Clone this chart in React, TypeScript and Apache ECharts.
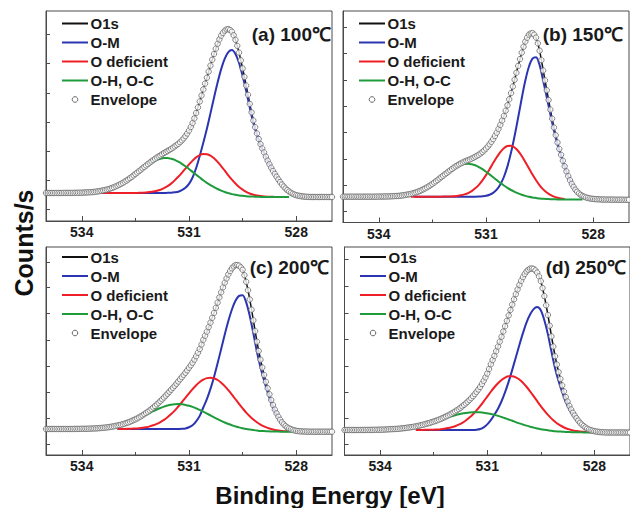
import React, { useEffect, useRef } from "react";
import * as echarts from "echarts";

// ---------------- data ----------------
// Intensities are in arbitrary counts units (no y labels in the original).
const ENV_START = 535.0; // eV of first envelope / O1s sample
const ENV_STEP = 0.05; // eV between envelope samples
const FIT_STEP = 0.1; // eV between fitted-component samples

const X_MAJOR = [534, 531, 528];
const X_MINOR = [532.5, 529.5];
const SERIES_NAMES = ["O1s", "O-M", "O deficient", "O-H, O-C", "Envelope"];
const PANEL_TITLES = ["(a) 100℃", "(b) 150℃", "(c) 200℃", "(d) 250℃"];
const Y_MAX = [210, 211.5, 208, 208];
const Y_TICKS = [
  [12, 41, 70, 99, 128, 158, 187],
  [11, 37, 63.5, 90, 116, 142.5, 169, 195],
  [11, 37, 63, 89, 115, 142, 168, 193],
  [11, 37, 63, 89, 115.5, 142, 169, 195.5],
];

// ---- (a) 100 C ----
const ENV_A = [
  28, 28, 28, 28, 28, 28, 28, 28, 28, 28,
  28.1, 28.1, 28.1, 28.1, 28.1, 28.1, 28.1, 28.2, 28.2, 28.3,
  28.3, 28.4, 28.5, 28.6, 28.7, 28.8, 28.9, 29.1, 29.4, 29.6,
  29.9, 30.2, 30.6, 31.0, 31.4, 31.9, 32.5, 33.1, 33.8, 34.6,
  35.4, 36.3, 37.2, 38.2, 39.3, 40.4, 41.6, 42.9, 44.2, 45.6,
  47.0, 48.4, 49.8, 51.2, 52.7, 54.1, 55.5, 56.9, 58.3, 59.6,
  60.9, 62.2, 63.4, 64.5, 65.6, 66.8, 68.0, 69.0, 70.0, 71.0,
  72.1, 73.3, 74.6, 75.9, 77.2, 78.8, 80.6, 82.6, 84.9, 87.5,
  90.5, 94.0, 98.0, 102.6, 108.0, 113.6, 119.5, 125.5, 131.6, 137.4,
  143.3, 149.4, 155.4, 161.3, 167.0, 172.3, 177.2, 181.6, 185.4, 188.2,
  190.4, 191.6, 191.9, 191.0, 189.3, 185.7, 181.1, 175.2, 168.4, 160.7,
  152.6, 144.1, 135.4, 126.2, 117.1, 108.6, 100.5, 93.8, 87.6, 82.0,
  76.9, 72.5, 68.5, 64.3, 60.3, 56.7, 53.2, 50.1, 47.1, 44.2,
  41.5, 38.9, 36.5, 34.4, 32.5, 30.9, 29.5, 28.3, 27.2, 26.4,
  25.8, 25.4, 25.0, 24.7, 24.5, 24.3, 24.2, 24.1, 24.0, 24.0,
  24, 24, 24, 24, 24, 24, 24, 24, 24, 24,
  24,
];
const OM_A_START = 533.0;
const OM_A = [
  28, 28, 28, 28, 28, 28, 28, 28, 28, 28, 28, 28, 28,
  28, 28.2, 28.3, 28.7, 29.3, 30.8, 33.2, 37.1, 43.5, 53,
  65, 78.2, 92.2, 107.6, 123.4, 138.5, 151.9, 162.3, 168.9, 171,
  167, 158, 145, 130, 113.5, 98, 86.1, 76, 68, 60,
  53, 47, 41.5, 36.5, 32.5, 29.5, 27.2, 25.8,
];
const OD_A_START = 533.5;
const OD_A = [
  28, 28, 28, 28, 28, 28, 28, 28, 28, 28, 28,
  28.2, 28.3, 28.5, 28.9, 29.4, 30.2, 31.3, 32.9, 34.9, 37.4,
  40.6, 44.2, 48.2, 52.4, 56.6, 60.4, 63.6, 65.9, 66.9, 66.7,
  65.3, 62.7, 59.1, 54.9, 50.3, 45.7, 41.4, 37.5, 34.1, 31.4,
  29.2, 27.5, 26.4, 25.5, 24.9, 24.5, 24.3, 24.2, 24.1, 24, 24, 24,
];
const OH_A_START = 533.5;
const OH_A = [
  29.9, 30.6, 31.4, 32.5, 33.8, 35.4, 37.2, 39.3, 41.6, 44.2,
  46.9, 49.6, 52.4, 55, 57.4, 59.5, 61.2, 62.3, 62.9, 62.9,
  62.2, 61.1, 59.3, 57.2, 54.7, 52, 49.1, 46.3, 43.5, 40.7,
  38.2, 35.9, 33.9, 32, 30.4, 29, 27.9, 26.9, 26.2, 25.5,
  25.2, 24.8, 24.5, 24.4, 24.2, 24.1, 24, 24, 24, 24, 24, 24, 24, 24,
];

// ---- (b) 150 C ----
const ENV_B = [
  25.8, 25.8, 25.8, 25.8, 25.8, 25.8, 25.8, 25.8, 25.8, 25.8,
  25.8, 25.8, 25.8, 25.8, 25.8, 25.8, 25.8, 25.8, 25.8, 25.9,
  25.9, 25.9, 25.9, 26.0, 26.0, 26.1, 26.1, 26.2, 26.3, 26.4,
  26.5, 26.6, 26.8, 27.0, 27.3, 27.6, 27.9, 28.2, 28.6, 29.1,
  29.6, 30.2, 30.9, 31.6, 32.4, 33.3, 34.2, 35.2, 36.3, 37.4,
  38.6, 39.9, 41.2, 42.6, 44.0, 45.4, 46.8, 48.2, 49.5, 50.9,
  52.2, 53.6, 54.9, 56.1, 57.2, 58.2, 59.2, 60.1, 60.9, 61.7,
  62.4, 63.1, 63.9, 64.8, 65.8, 66.8, 67.8, 69.1, 70.5, 72.1,
  73.9, 75.9, 78.2, 80.7, 83.4, 86.5, 89.8, 93.6, 97.6, 102.0,
  106.6, 111.8, 117.2, 123.2, 129.4, 136.0, 142.8, 149.7, 156.6, 163.4,
  169.9, 175.8, 180.9, 184.8, 187.9, 189.0, 189.4, 187.8, 184.9, 179.2,
  171.8, 162.4, 152.0, 142.2, 132.3, 122.5, 112.9, 103.8, 95.0, 87.3,
  80.0, 73.6, 67.7, 61.8, 56.2, 51.1, 46.4, 42.3, 38.6, 35.6,
  32.8, 30.8, 29.0, 27.6, 26.5, 25.7, 25.0, 24.5, 24.1, 23.8,
  23.6, 23.4, 23.3, 23.2, 23.1, 23.0, 23.0, 22.9, 22.9, 22.9,
  22.9, 22.9, 22.8, 22.8, 22.8, 22.8, 22.8, 22.7, 22.7, 22.7,
  22.7,
];
const OM_B_START = 533.0;
const OM_B = [
  25.8, 25.8, 25.8, 25.8, 25.8, 25.8, 25.8, 25.8, 25.8, 25.8, 25.8, 25.8, 25.8, 25.8, 25.8,
  25.7, 25.7,
  25.75, 25.9, 26.2, 26.7, 27.8, 29.6, 32.8, 38.0, 45.5, 56.1,
  69.9, 86.5, 105.0, 124.3, 142.0, 155.8, 163.9, 165.3, 157.4, 141.8,
  125.2, 108.2, 92.1, 78.3, 66.7, 55.6, 46.1, 38.4, 32.8, 29.0,
  26.5, 25.0, 24.1, 23.6,
];
const OD_B_START = 533.1;
const OD_B = [
  25.8, 25.8, 25.8, 25.8, 25.8, 25.8, 25.8, 25.8, 25.8,
  25.9, 26.0, 26.1, 26.3, 26.6, 27.2, 28.1, 29.4, 31.4, 34.2,
  37.7, 42.2, 47.4, 53.3, 59.4, 65.2, 70.4, 74.3, 76.5, 76.8,
  75.0, 71.5, 66.5, 60.5, 54.2, 47.9, 42.3, 37.2, 33.1, 30.0,
  27.7, 25.9, 24.8, 24.0, 23.6,
];
const OH_B_START = 533.5;
const OH_B = [
  26.5, 26.8, 27.3, 27.9, 28.6, 29.6, 30.9, 32.4, 34.2, 36.3,
  38.6, 41.2, 44.0, 46.8, 49.5, 52.1, 54.4, 56.4, 57.8, 58.6,
  58.7, 58.2, 57.2, 55.4, 53.3, 50.8, 48.1, 45.2, 42.4, 39.6,
  37.0, 34.6, 32.5, 30.7, 29.1, 27.7, 26.6, 25.7, 25.0, 24.5,
  24.0, 23.7, 23.5, 23.35, 23.2, 23.1, 23.0, 23, 23, 23,
  23, 23, 23,
];

// ---- (c) 200 C ----
const ENV_C = [
  26, 26, 26, 26, 26, 26, 26, 26, 26, 26,
  26, 26, 26, 26, 26, 26, 26.1, 26.1, 26.1, 26.1,
  26.2, 26.2, 26.2, 26.25, 26.3, 26.4, 26.5, 26.55, 26.6, 26.75,
  26.9, 27.05, 27.2, 27.4, 27.6, 27.85, 28.1, 28.4, 28.7, 29.1,
  29.5, 29.9, 30.3, 30.85, 31.4, 32.0, 32.6, 33.3, 34.1, 34.9,
  35.7, 36.6, 37.6, 38.6, 39.7, 40.9, 42.1, 43.3, 44.6, 46.0,
  47.5, 49.0, 50.6, 52.2, 53.9, 55.7, 57.5, 59.4, 61.3, 63.3,
  65.3, 67.2, 69.2, 71.3, 73.5, 75.7, 77.9, 80.1, 82.3, 84.7,
  87.2, 89.7, 92.3, 95.4, 98.8, 102.3, 106.0, 110.5, 115.2, 119.3,
  123.4, 127.9, 132.4, 137.2, 142.1, 147.2, 152.4, 157.6, 162.7, 167.6,
  172.3, 176.6, 180.6, 183.9, 186.7, 188.6, 189.9, 190.0, 189.4, 187.6,
  185.2, 179.8, 173.2, 164.8, 155.6, 145.3, 134.7, 123.9, 113.3, 104.0,
  95.3, 87.4, 80.1, 73.2, 66.7, 60.7, 55.0, 50.0, 45.4, 41.6,
  38.2, 35.2, 32.6, 30.6, 28.9, 27.6, 26.6, 25.8, 25.1, 24.6,
  24.2, 23.9, 23.7, 23.6, 23.5, 23.45, 23.4, 23.35, 23.3, 23.3,
  23.3, 23.3, 23.3, 23.3, 23.3, 23.3, 23.3, 23.3, 23.3, 23.3,
  23.3,
];
const OM_C_START = 533.0;
const OM_C = [
  26, 26, 26, 26, 26, 26, 26, 26, 26, 26, 26, 26, 26,
  26, 26, 26, 25.9, 25.9, 26.15, 26.6, 27.75, 29.7, 33.65,
  39.1, 47.5, 55.9, 66.1, 78.1, 91.7, 106.05, 120.5, 133.95, 145.5,
  154.25, 159.1, 159.85, 152.6, 139, 121.7, 103.3, 87.8, 74.45, 62.7,
  52.15, 43.4, 36.9, 31.8, 28.4, 26.2, 24.9, 24.1,
];
const OD_C_START = 533.0;
const OD_C = [
  26.05, 26.1, 26.1, 26.2, 26.35, 26.5, 26.8, 27.2, 27.8, 28.6,
  29.7, 31.1, 32.9, 35.1, 37.8, 40.95, 44.4, 48.5, 52.75, 57.2,
  61.65, 65.9, 69.75, 73, 75.4, 76.9, 77.3, 76.7, 75, 72.35,
  68.9, 64.85, 60.4, 55.75, 51.1, 46.65, 42.4, 38.8, 35.5, 32.7,
  30.4, 28.55, 27.1, 25.95, 25.1, 24.5, 24.1, 23.8, 23.65,
];
const OH_C_START = 533.5;
const OH_C = [
  26.9, 27.2, 27.6, 28.1, 28.7, 29.4, 30.2, 31.3, 32.4, 33.7,
  35.2, 36.8, 38.5, 40.3, 42.0, 43.8, 45.5, 47.0, 48.4, 49.5,
  50.25, 50.7, 50.9, 50.65, 50.1, 49.25, 48.1, 46.65, 45.1, 43.3,
  41.4, 39.6, 37.7, 35.9, 34.15, 32.5, 31.05, 29.8, 28.55, 27.6,
  26.75, 26.0, 25.4, 24.9, 24.5, 24.1, 23.95, 23.7, 23.55, 23.5,
  23.4, 23.35, 23.3, 23.3, 23.3,
];

// ---- (d) 250 C ----
const ENV_D = [
  25.0, 25.0, 25.0, 25.0, 25.0, 25.0, 25.0, 25.0, 25.0, 25.05,
  25.05, 25.05, 25.05, 25.1, 25.1, 25.1, 25.15, 25.2, 25.2, 25.25,
  25.3, 25.35, 25.4, 25.5, 25.6, 25.7, 25.8, 25.9, 26.0, 26.1,
  26.2, 26.4, 26.6, 26.8, 27.0, 27.25, 27.5, 27.75, 28.0, 28.3,
  28.6, 29.0, 29.4, 29.85, 30.3, 30.8, 31.3, 31.8, 32.3, 32.9,
  33.5, 34.1, 34.7, 35.45, 36.2, 37.0, 37.8, 38.65, 39.5, 40.45,
  41.4, 42.5, 43.6, 44.8, 46.0, 47.3, 48.7, 50.15, 51.65, 53.3,
  55.0, 56.8, 58.75, 60.9, 63.1, 65.5, 68.05, 71.0, 74.2, 77.7,
  81.5, 86.0, 90.75, 95.0, 99.15, 103.8, 108.45, 113.3, 118.25, 123.5,
  128.75, 134.2, 139.6, 145.0, 150.45, 155.7, 160.8, 165.6, 170.05, 174.2,
  177.9, 181.0, 183.55, 185.2, 186.3, 186.5, 186.1, 184.6, 182.4, 178.6,
  173.9, 166.9, 158.9, 149.7, 140.05, 129.3, 118.6, 108.5, 98.75, 90.5,
  82.9, 76.0, 69.6, 63.6, 58.0, 53.4, 49.1, 45.5, 42.2, 39.4,
  36.8, 34.4, 32.25, 30.5, 28.9, 27.6, 26.35, 25.5, 24.8, 24.3,
  23.8, 23.5, 23.2, 23.0, 22.8, 22.7, 22.6, 22.55, 22.5, 22.5,
  22.5, 22.5, 22.5, 22.5, 22.5, 22.5, 22.5, 22.5, 22.5, 22.5,
  22.5,
];
const OM_D_START = 533.0;
const OM_D = [
  25, 25, 25, 25, 25, 25, 25, 25, 25, 25, 25, 25, 25,
  25, 24.95, 24.9, 24.95, 25.2, 25.95, 27.7, 30.6, 34.8, 40.2,
  46.25, 53.75, 62.85, 73.4, 85.15, 97.6, 110.05, 121.9, 132.45, 140.5,
  145.9, 147.9, 144.8, 134.8, 120.65, 103.2, 86.85, 73.8, 62.8, 53.1,
  45.6, 39.8, 35.1, 31.1, 28.1, 25.9, 24.5, 23.6,
];
const OD_D_START = 533.0;
const OD_D = [
  25, 25, 25.1, 25.15, 25.2, 25.35, 25.5, 25.8, 26.3, 26.9,
  27.7, 28.8, 30.3, 32.2, 34.55, 37.4, 40.75, 44.7, 48.95, 53.6,
  58.4, 63.25, 67.75, 71.75, 75.05, 77.45, 78.7, 78.75, 77.7, 75.45,
  72.3, 68.25, 63.7, 58.8, 53.8, 48.9, 44.3, 40.05, 36.4, 33.25,
  30.6, 28.5, 26.8, 25.6, 24.6, 24.0, 23.5, 23.2, 22.95, 22.8,
];
const OH_D_START = 533.5;
const OH_D = [
  26.2, 26.6, 27.0, 27.5, 28.0, 28.6, 29.4, 30.2, 31.1, 32.1,
  33.1, 34.2, 35.4, 36.5, 37.6, 38.7, 39.8, 40.7, 41.5, 42.05,
  42.5, 42.75, 42.8, 42.65, 42.3, 41.7, 41.05, 40.15, 39.15, 37.95,
  36.75, 35.5, 34.25, 32.9, 31.65, 30.5, 29.35, 28.3, 27.4, 26.5,
  25.8, 25.2, 24.65, 24.2, 23.75, 23.5, 23.3, 23.1, 22.9, 22.8,
  22.7, 22.65, 22.6, 22.55, 22.5, 22.5,
];

// ---------------- layout / style ----------------
const FONT = "'Liberation Sans', Arial, Helvetica, sans-serif";
const AXIS_COLOR = "#4a4a4a";
const COLORS = { o1s: "#111111", om: "#2b35b2", od: "#ee1f26", oh: "#1f9b3b", env: "#666666" };
const GRIDS = [
  { left: 46, top: 11, width: 286, height: 210 },
  { left: 343, top: 11, width: 286, height: 211.5 },
  { left: 46, top: 247, width: 286, height: 208 },
  { left: 344.5, top: 247, width: 285.5, height: 208 },
];
const LEGEND_POS = [
  { x: 62, y: 23.5 },
  { x: 359, y: 23.5 },
  { x: 62, y: 257 },
  { x: 360, y: 257 },
];
const TITLE_POS = [
  { x: 331, y: 34 },
  { x: 623, y: 34 },
  { x: 329, y: 267 },
  { x: 626, y: 267 },
];

const PANELS = [
  { env: ENV_A, om: [OM_A_START, OM_A], od: [OD_A_START, OD_A], oh: [OH_A_START, OH_A] },
  { env: ENV_B, om: [OM_B_START, OM_B], od: [OD_B_START, OD_B], oh: [OH_B_START, OH_B] },
  { env: ENV_C, om: [OM_C_START, OM_C], od: [OD_C_START, OD_C], oh: [OH_C_START, OH_C] },
  { env: ENV_D, om: [OM_D_START, OM_D], od: [OD_D_START, OD_D], oh: [OH_D_START, OH_D] },
] as const;

function toPairs(start: number, step: number, values: readonly number[]) {
  return values.map((v, i) => [Math.round((start - i * step) * 1000) / 1000, v]);
}

function buildOption(): any {
  const grid: any[] = [];
  const xAxis: any[] = [];
  const yAxis: any[] = [];
  const series: any[] = [];
  const graphic: any[] = [];

  PANELS.forEach((p, i) => {
    grid.push({ ...GRIDS[i], show: true, borderColor: AXIS_COLOR, borderWidth: 1, backgroundColor: "transparent" });
    const common = { gridIndex: i, type: "value", min: 527, max: 535, inverse: true, position: "bottom", splitLine: { show: false } };
    xAxis.push({
      ...common,
      axisLine: { show: true, lineStyle: { color: AXIS_COLOR, width: 1 } },
      axisTick: { show: true, inside: true, length: 5, customValues: X_MAJOR, lineStyle: { color: AXIS_COLOR, width: 1 } },
      axisLabel: { show: true, customValues: X_MAJOR, margin: 4, color: "#1a1a1a", fontSize: 14, fontWeight: "bold", fontFamily: FONT },
    });
    xAxis.push({
      ...common,
      axisLine: { show: false },
      axisTick: { show: true, inside: true, length: 3, customValues: X_MINOR, lineStyle: { color: AXIS_COLOR, width: 1 } },
      axisLabel: { show: false },
    });
    yAxis.push({
      gridIndex: i,
      type: "value",
      min: 0,
      max: Y_MAX[i],
      axisLine: { show: true, lineStyle: { color: AXIS_COLOR, width: 1 } },
      axisTick: { show: true, inside: true, length: 4, customValues: Y_TICKS[i], lineStyle: { color: AXIS_COLOR, width: 1 } },
      axisLabel: { show: false },
      splitLine: { show: false },
    });

    const xi = i * 2;
    const lineBase = { type: "line", xAxisIndex: xi, yAxisIndex: i, symbol: "none", showSymbol: false, silent: true };
    series.push({ ...lineBase, name: SERIES_NAMES[0], data: toPairs(ENV_START, ENV_STEP, p.env), lineStyle: { color: COLORS.o1s, width: 1.5 }, z: 2 });
    series.push({ ...lineBase, name: SERIES_NAMES[1], smooth: 0.3, data: toPairs(p.om[0] as number, FIT_STEP, p.om[1] as number[]), lineStyle: { color: COLORS.om, width: 2 }, z: 3 });
    series.push({ ...lineBase, name: SERIES_NAMES[2], smooth: 0.3, data: toPairs(p.od[0] as number, FIT_STEP, p.od[1] as number[]), lineStyle: { color: COLORS.od, width: 2 }, z: 4 });
    series.push({ ...lineBase, name: SERIES_NAMES[3], smooth: 0.3, data: toPairs(p.oh[0] as number, FIT_STEP, p.oh[1] as number[]), lineStyle: { color: COLORS.oh, width: 2 }, z: 5 });
    series.push({
      type: "scatter",
      name: SERIES_NAMES[4],
      xAxisIndex: xi,
      yAxisIndex: i,
      silent: true,
      symbol: "circle",
      symbolSize: 5.4,
      itemStyle: { color: "#ffffff", borderColor: COLORS.env, borderWidth: 1 },
      data: toPairs(ENV_START, ENV_STEP, p.env),
      z: 6,
    });

    // legend (drawn as graphic so it sits exactly like the original)
    const lp = LEGEND_POS[i];
    const lineColors = [COLORS.o1s, COLORS.om, COLORS.od, COLORS.oh];
    SERIES_NAMES.forEach((name, k) => {
      const y = lp.y + k * 19;
      if (k < 4) {
        graphic.push({ type: "line", z: 100, shape: { x1: lp.x, y1: y, x2: lp.x + 26, y2: y }, style: { stroke: lineColors[k], lineWidth: 2 } });
      } else {
        graphic.push({ type: "circle", z: 100, shape: { cx: lp.x + 13, cy: y, r: 2.8 }, style: { fill: "#fff", stroke: COLORS.env, lineWidth: 1 } });
      }
      graphic.push({
        type: "text",
        z: 100,
        x: lp.x + 28.5,
        y,
        style: { text: name, fill: "#1a1a1a", fontSize: 15, fontWeight: "bold", fontFamily: FONT, align: "left", verticalAlign: "middle", textAlign: "left", textVerticalAlign: "middle" },
      });
    });
    const tp = TITLE_POS[i];
    graphic.push({
      type: "text",
      z: 100,
      x: tp.x,
      y: tp.y,
      style: { text: PANEL_TITLES[i], fill: "#1a1a1a", fontSize: 19, fontWeight: "bold", fontFamily: FONT, align: "right", verticalAlign: "middle", textAlign: "right", textVerticalAlign: "middle" },
    });
  });

  graphic.push({
    type: "text",
    z: 100,
    x: 24,
    y: 243,
    rotation: Math.PI / 2,
    style: { text: "Counts/s", fill: "#111", fontSize: 25, fontWeight: "bold", fontFamily: FONT, align: "center", verticalAlign: "middle", textAlign: "center", textVerticalAlign: "middle" },
  });
  graphic.push({
    type: "text",
    z: 100,
    x: 330,
    y: 495,
    style: { text: "Binding Energy [eV]", fill: "#111", fontSize: 24, fontWeight: "bold", fontFamily: FONT, align: "center", verticalAlign: "middle", textAlign: "center", textVerticalAlign: "middle" },
  });

  return { animation: false, backgroundColor: "#ffffff", grid, xAxis, yAxis, series, graphic };
}

export default function App() {
  const ref = useRef<HTMLDivElement>(null);
  useEffect(() => {
    if (!ref.current) return;
    const chart = echarts.init(ref.current, null, { renderer: "svg" });
    chart.setOption(buildOption());
    return () => chart.dispose();
  }, []);
  return (
    <div
      ref={ref}
      style={{ position: "fixed", left: 0, top: 0, width: 630, height: 508, background: "#ffffff" }}
    />
  );
}
